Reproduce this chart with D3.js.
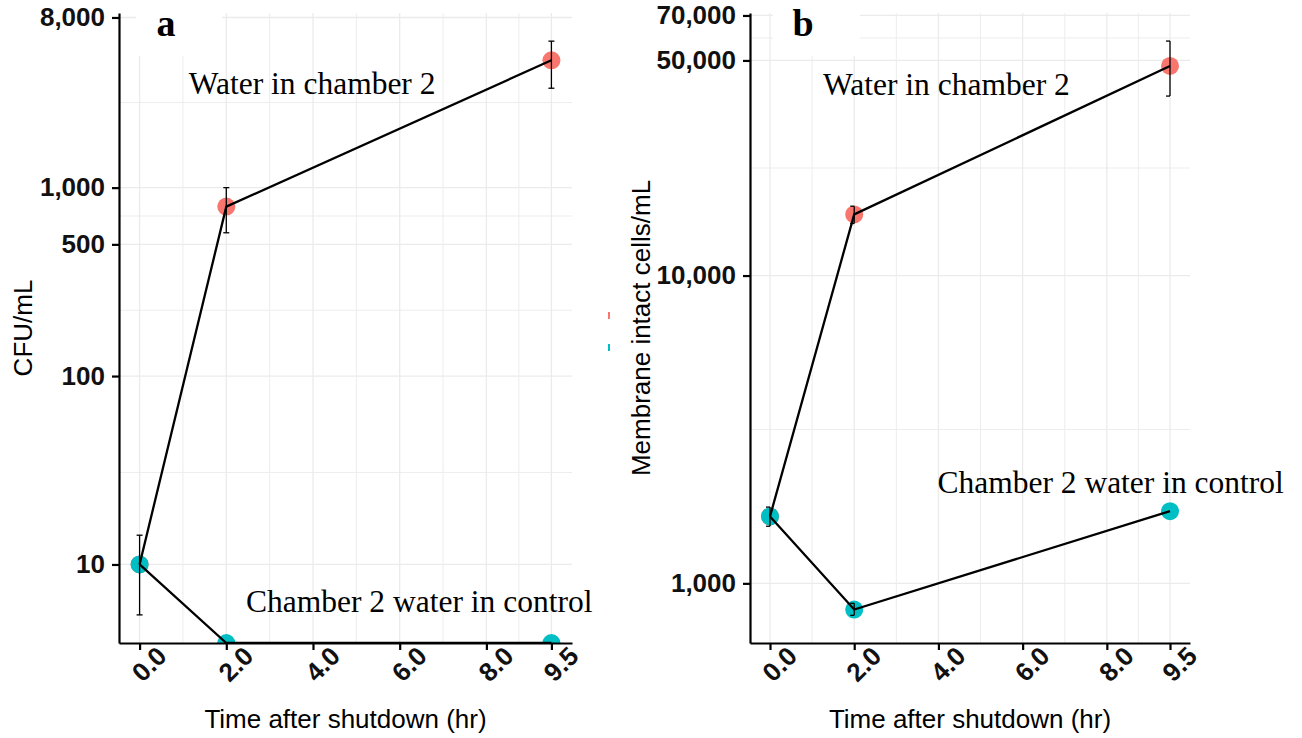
<!DOCTYPE html>
<html>
<head>
<meta charset="utf-8">
<script src="https://cdn.jsdelivr.net/npm/d3@7/dist/d3.min.js"></script>
<style>
  html, body { margin: 0; padding: 0; background: #ffffff; }
  svg { display: block; }
</style>
</head>
<body>
<svg id="chart" width="1302" height="738"></svg>
<script>
// ---- data -------------------------------------------------------------
const hours = [0, 2, 9.5];
const xTickValues = [0, 2, 4, 6, 8, 9.5];
const xMinorValues = [1, 3, 5, 7, 8.75];

// Panel a: culturable counts (CFU/mL); 0 = below detection
const cfuChamber   = [10, 793, 4740];
const cfuChamberLo = [null, 576, 3370];
const cfuChamberHi = [null, 1000, 5990];
const cfuControl   = [10, 0, 0];
const cfuControlLo = [5.4, null, null];
const cfuControlHi = [14.3, null, null];
const cfuTicks = [10, 100, 500, 1000, 8000];
const cfuMinor = [30.8, 223.6, 707.1, 2828];

// Panel b: membrane intact cells/mL
const cellsChamber   = [1650, 15800, 47970];
const cellsChamberLo = [null, 14760, 38300];
const cellsChamberHi = [null, 16800, 57800];
const cellsControl   = [1650, 822, 1716];
const cellsControlLo = [1533, 787, null];
const cellsControlHi = [1769, 861, null];
const cellsTicks = [1000, 10000, 50000, 70000];
const cellsMinor = [3162, 22360, 59160];

const seriesNames = ["Water in chamber 2", "Chamber 2 water in control"];
const seriesColors = ["#F8766D", "#00BFC4"];

// ---- drawing ----------------------------------------------------------
const svg = d3.select("#chart");
const fmtY = d3.format(",");
const fmtX = d3.format(".1f");

function drawPanel(p) {
  const x = d3.scaleLinear().domain([-0.475, 9.975]).range(p.xRange);
  const y = d3.scaleLog().domain(p.yDomain).range([643, 13]).clamp(true);
  const [x0, x1] = p.xRange;
  const g = svg.append("g");

  // grid
  const grid = g.append("g");
  grid.selectAll("line.hmaj").data(p.yTicks).join("line")
    .attr("x1", x0).attr("x2", x1)
    .attr("y1", d => y(d)).attr("y2", d => y(d))
    .attr("stroke", "#ebebeb").attr("stroke-width", 1.3);
  grid.selectAll("line.hmin").data(p.yMinor).join("line")
    .attr("x1", x0).attr("x2", x1)
    .attr("y1", d => y(d)).attr("y2", d => y(d))
    .attr("stroke", "#ededed").attr("stroke-width", 1);
  grid.selectAll("line.vmaj").data(xTickValues).join("line")
    .attr("x1", d => x(d)).attr("x2", d => x(d))
    .attr("y1", 13).attr("y2", 643)
    .attr("stroke", "#ebebeb").attr("stroke-width", 1.3);
  grid.selectAll("line.vmin").data(xMinorValues).join("line")
    .attr("x1", d => x(d)).attr("x2", d => x(d))
    .attr("y1", 13).attr("y2", 643)
    .attr("stroke", "#ededed").attr("stroke-width", 1);

  // panel letter on a white tag
  g.append("rect").attr("x", p.tag[0]).attr("y", 0)
    .attr("width", p.tag[1]).attr("height", 56).attr("fill", "#ffffff");
  g.append("text").attr("x", p.letterX).attr("y", 36)
    .attr("text-anchor", "middle")
    .attr("font-family", "'Liberation Serif', 'Times New Roman', serif")
    .attr("font-weight", "bold").attr("font-size", 38)
    .text(p.letter);

  // clipped data layer
  const clipId = "clip-" + p.letter;
  svg.append("clipPath").attr("id", clipId).append("rect")
    .attr("x", x0).attr("y", 13).attr("width", x1 - x0).attr("height", 630);
  const data = g.append("g").attr("clip-path", `url(#${clipId})`);

  const series = p.series.map((s, i) => ({
    color: seriesColors[i],
    pts: hours.map((h, j) => ({ h, v: s.v[j], lo: s.lo[j], hi: s.hi[j] }))
  }));

  // points (control series drawn last, on top)
  series.forEach(s => {
    data.selectAll(null).data(s.pts).join("circle")
      .attr("cx", d => x(d.h)).attr("cy", d => y(d.v))
      .attr("r", 9).attr("fill", s.color);
  });
  // connecting lines
  const line = d3.line().x(d => x(d.h)).y(d => y(d.v));
  series.forEach(s => {
    data.append("path").datum(s.pts).attr("d", line)
      .attr("fill", "none").attr("stroke", "#000").attr("stroke-width", 2.3);
  });
  // error bars
  series.forEach(s => {
    const eb = s.pts.filter(d => d.lo != null && d.hi != null);
    const gb = data.append("g").attr("stroke", "#000").attr("stroke-width", 1.3);
    gb.selectAll("line.v").data(eb).join("line")
      .attr("x1", d => x(d.h)).attr("x2", d => x(d.h))
      .attr("y1", d => y(d.lo)).attr("y2", d => y(d.hi));
    [ "lo", "hi" ].forEach(k => {
      gb.selectAll("line." + k).data(eb).join("line")
        .attr("x1", d => x(d.h) + p.cap[0]).attr("x2", d => x(d.h) + p.cap[1])
        .attr("y1", d => y(d[k])).attr("y2", d => y(d[k]));
    });
  });

  // annotations
  p.notes.forEach(n => {
    g.append("text").attr("x", x(n.x)).attr("y", y(n.y))
      .attr("text-anchor", "middle")
      .attr("font-family", "'Liberation Serif', 'Times New Roman', serif")
      .attr("font-size", 31.5).attr("fill", "#000")
      .text(n.label);
  });

  // axes
  const yAxis = g.append("g").attr("transform", `translate(${x0},0)`)
    .call(d3.axisLeft(y).tickValues(p.yTicks).tickFormat(fmtY)
      .tickSize(7).tickSizeOuter(0).tickPadding(7));
  const xAxis = g.append("g").attr("transform", "translate(0,643)")
    .call(d3.axisBottom(x).tickValues(xTickValues).tickFormat(fmtX)
      .tickSize(7).tickSizeOuter(0));
  [yAxis, xAxis].forEach(a => {
    a.select(".domain").attr("stroke", "#000").attr("stroke-width", 2.2);
    a.selectAll(".tick line").attr("stroke", "#000").attr("stroke-width", 2.2);
    a.selectAll("text")
      .attr("font-family", "'Liberation Sans', Arial, sans-serif")
      .attr("font-weight", "bold").attr("font-size", 26).attr("fill", "#111");
  });
  xAxis.selectAll("text")
    .attr("y", null).attr("dy", "0.35em").attr("text-anchor", "middle")
    .attr("transform", "translate(9,21) rotate(-45)");

  // axis titles
  g.append("text").attr("x", (x0 + x1) / 2).attr("y", 728)
    .attr("text-anchor", "middle")
    .attr("font-family", "'Liberation Sans', Arial, sans-serif")
    .attr("font-size", 26).attr("fill", "#000")
    .text("Time after shutdown (hr)");
  g.append("text")
    .attr("transform", `translate(${p.yTitleX},328) rotate(-90)`)
    .attr("text-anchor", "middle").attr("dy", "0.35em")
    .attr("font-family", "'Liberation Sans', Arial, sans-serif")
    .attr("font-size", 26).attr("fill", "#000")
    .text(p.yTitle);
}

drawPanel({
  letter: "a",
  letterX: 166,
  xRange: [119, 572],
  yDomain: [3.83, 8450],
  yTicks: cfuTicks,
  yMinor: cfuMinor,
  tag: [136, 86],
  cap: [-3, 3],
  yTitle: "CFU/mL",
  yTitleX: 23,
  series: [
    { v: cfuChamber, lo: cfuChamberLo, hi: cfuChamberHi },
    { v: cfuControl, lo: cfuControlLo, hi: cfuControlHi }
  ],
  notes: [
    { label: seriesNames[0], x: 3.98, y: 3150 },
    { label: seriesNames[1], x: 6.45, y: 5.6 }
  ]
});

drawPanel({
  letter: "b",
  letterX: 803,
  xRange: [750, 1190],
  yDomain: [640, 71300],
  yTicks: cellsTicks,
  yMinor: cellsMinor,
  tag: [773, 87],
  cap: [-4, 0],
  yTitle: "Membrane intact cells/mL",
  yTitleX: 641,
  series: [
    { v: cellsChamber, lo: cellsChamberLo, hi: cellsChamberHi },
    { v: cellsControl, lo: cellsControlLo, hi: cellsControlHi }
  ],
  notes: [
    { label: seriesNames[0], x: 4.19, y: 38600 },
    { label: seriesNames[1], x: 8.09, y: 1963 }
  ]
});

// remnant legend keys between the panels
svg.selectAll("rect.key").data(seriesColors).join("rect")
  .attr("x", 608).attr("y", (d, i) => 312 + i * 32)
  .attr("width", 2).attr("height", 7).attr("fill", d => d);
</script>
</body>
</html>
